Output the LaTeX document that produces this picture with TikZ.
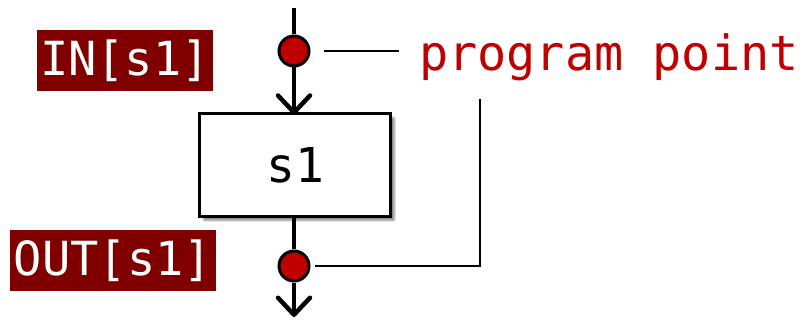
\documentclass[tikz,border=0pt]{standalone}
\usepackage{fontspec}
\setmonofont{DejaVu Sans Mono}
\usetikzlibrary{arrows.meta,shadows,shadows.blur}
\definecolor{darkred}{HTML}{800000}
\definecolor{ptred}{HTML}{C00000}
\begin{document}
\begin{tikzpicture}[x=1pt,y=-1pt,
  flow/.style={line width=4.5pt,-{Straight Barb[length=17pt,width=32pt,line cap=round,line join=round]}},
  flowline/.style={line width=4.5pt},
  pt/.style={circle,draw=black,line width=3pt,fill=ptred,minimum size=30pt,inner sep=0pt},
  lbl/.style={fill=darkred,text=white,font=\ttfamily\fontsize{47}{50}\selectfont,inner sep=0pt,minimum height=61pt},
  stmt/.style={draw=black,line width=3.5pt,fill=white,minimum width=191pt,minimum height=103pt,font=\ttfamily\fontsize{48}{50}\selectfont,
    blur shadow={shadow xshift=4pt,shadow yshift=-4pt,shadow blur steps=8,shadow blur extra rounding=1pt,shadow opacity=45}},
  thin/.style={line width=2pt}]
\useasboundingbox (0,0) rectangle (805,320);
\coordinate (top) at (294,8);
\coordinate (bot) at (294,317);
\node[stmt] (s1) at (295,165) {s1};
\node[pt] (pin) at (294,51) {};
\node[pt] (pout) at (294,266) {};
\draw[flowline] (top) -- (pin);
\draw[flow] (pin) -- ([yshift=-3pt]s1.north -| pin);
\draw[flowline] (s1.south -| pout) -- (pout);
\draw[flow] (pout) -- (bot);
\node[lbl,minimum width=176pt] (inl) at (125,60.5) {IN[s1]};
\node[lbl,minimum width=206pt] (outl) at (113,260.5) {OUT[s1]};
\node[anchor=base west,text=ptred,font=\ttfamily\fontsize{48.5}{50}\selectfont,inner sep=0pt] (pp) at (419,70.5) {program point};
\coordinate (c1) at (399,51);
\coordinate (c2) at (480,99);
\draw[thin] ([xshift=13pt]pin.east) -- (c1);
\draw[thin,line join=miter] ([xshift=4pt]pout.east) -- (pout.east -| c2) -- (c2);
\end{tikzpicture}
\end{document}
